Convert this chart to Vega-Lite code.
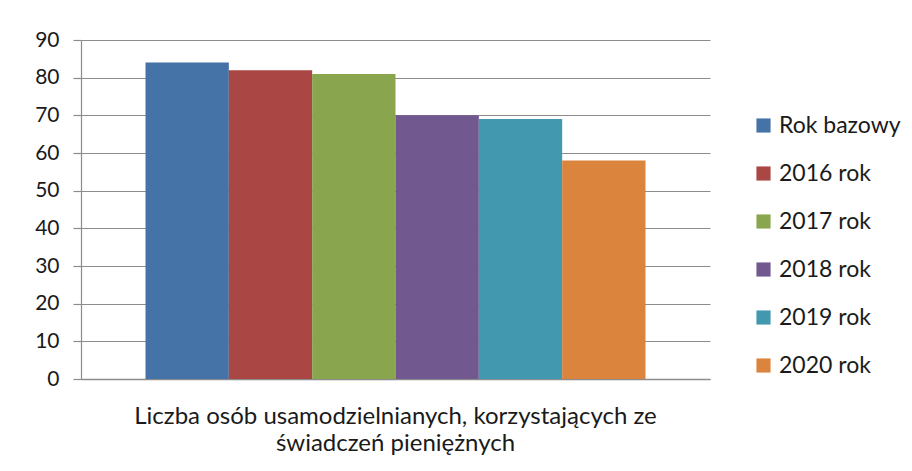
{
  "$schema": "https://vega.github.io/schema/vega-lite/v6.json",
  "autosize": "none",
  "width": 629,
  "height": 339,
  "padding": {"left": 81, "top": 40, "right": 202, "bottom": 92},
  "background": "white",
  "config": {"view": {"stroke": null}, "font": "Lato"},
  "data": {"values": [
    {"cat": "Liczba osób usamodzielnianych, korzystających ze świadczeń pieniężnych", "series": "Rok bazowy", "value": 84},
    {"cat": "Liczba osób usamodzielnianych, korzystających ze świadczeń pieniężnych", "series": "2016 rok", "value": 82},
    {"cat": "Liczba osób usamodzielnianych, korzystających ze świadczeń pieniężnych", "series": "2017 rok", "value": 81},
    {"cat": "Liczba osób usamodzielnianych, korzystających ze świadczeń pieniężnych", "series": "2018 rok", "value": 70},
    {"cat": "Liczba osób usamodzielnianych, korzystających ze świadczeń pieniężnych", "series": "2019 rok", "value": 69},
    {"cat": "Liczba osób usamodzielnianych, korzystających ze świadczeń pieniężnych", "series": "2020 rok", "value": 58}
  ]},
  "mark": {"type": "bar"},
  "encoding": {
    "x": {
      "field": "cat", "type": "nominal",
      "scale": {"paddingInner": 0, "paddingOuter": 0.129},
      "axis": {
        "title": null, "labelAngle": 0, "ticks": false,
        "domainColor": "#8c8c8c", "domainWidth": 1.5,
        "labelFont": "Lato", "labelFontSize": 24, "labelColor": "#1a1a1a",
        "labelPadding": 25, "labelLineHeight": 27, "labelLimit": 0,
        "labelExpr": "['Liczba osób usamodzielnianych, korzystających ze', 'świadczeń pieniężnych']"
      }
    },
    "xOffset": {
      "field": "series", "type": "nominal",
      "sort": ["Rok bazowy", "2016 rok", "2017 rok", "2018 rok", "2019 rok", "2020 rok"],
      "scale": {"paddingInner": 0, "paddingOuter": 0}
    },
    "y": {
      "field": "value", "type": "quantitative",
      "scale": {"domain": [0, 90], "nice": false},
      "axis": {
        "title": null, "values": [0, 10, 20, 30, 40, 50, 60, 70, 80, 90],
        "grid": true, "gridColor": "#8c8c8c", "gridWidth": 1.2,
        "domainColor": "#8c8c8c", "domainWidth": 1.2,
        "tickColor": "#8c8c8c", "tickSize": 8, "tickWidth": 1.2,
        "labelFont": "Lato", "labelFontSize": 21, "labelColor": "#1a1a1a",
        "labelPadding": 14
      }
    },
    "color": {
      "field": "series", "type": "nominal",
      "sort": ["Rok bazowy", "2016 rok", "2017 rok", "2018 rok", "2019 rok", "2020 rok"],
      "scale": {
        "domain": ["Rok bazowy", "2016 rok", "2017 rok", "2018 rok", "2019 rok", "2020 rok"],
        "range": ["#4572A7", "#AA4643", "#89A54E", "#71588F", "#4198AF", "#DB843D"]
      },
      "legend": {
        "title": null, "orient": "none", "legendX": 671, "legendY": 74,
        "symbolType": "square", "symbolSize": 200, "symbolStrokeWidth": 0,
        "labelFont": "Lato", "labelFontSize": 23, "labelColor": "#1a1a1a",
        "rowPadding": 24, "labelOffset": 4
      }
    }
  }
}
